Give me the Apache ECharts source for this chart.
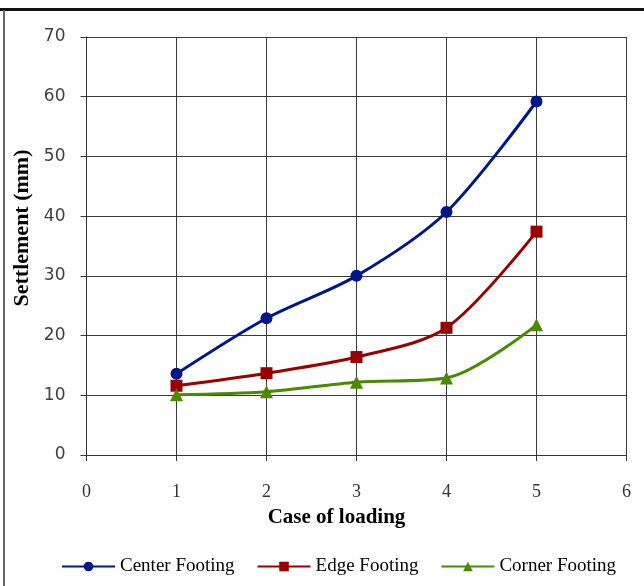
<!DOCTYPE html>
<html><head><meta charset="utf-8">
<script src="https://cdn.jsdelivr.net/npm/echarts@6/dist/echarts.min.js"></script>
<style>html,body{margin:0;padding:0;background:#fff}#c{width:644px;height:586px}</style>
</head><body><div id="c"></div>
<script>
const cases = [1, 2, 3, 4, 5];
const centerFooting = [13.6, 22.9, 30.0, 40.7, 59.2];
const edgeFooting = [11.6, 13.7, 16.4, 21.3, 37.4];
const cornerFooting = [10.1, 10.6, 12.2, 12.9, 21.8];
const seriesNames = ['Center Footing', 'Edge Footing', 'Corner Footing'];
const xTitle = 'Case of loading';
const yTitle = 'Settlement (mm)';

const pair = arr => cases.map((c, i) => [c, arr[i]]);
const chart = echarts.init(document.getElementById('c'), null, {renderer: 'canvas'});
const mk = (name, data, color, symbol, size) => ({
  name, type: 'line', data: pair(data), smooth: 0.3,
  symbol, symbolSize: size,
  lineStyle: {color, width: 3}, itemStyle: {color},
  emphasis: {disabled: true}
});
chart.setOption({
  animation: false,
  graphic: [
    {type: 'rect', shape: {x: 0, y: 8, width: 644, height: 3}, style: {fill: '#111'}},
    {type: 'rect', shape: {x: 3, y: 10, width: 2, height: 580}, style: {fill: '#666'}}
  ],
  grid: {left: 86.5, right: 17.5, top: 37, bottom: 131},
  xAxis: {
    type: 'value', min: 0, max: 6, interval: 1,
    name: xTitle, nameLocation: 'middle', nameGap: 52,
    nameTextStyle: {fontFamily: 'Liberation Serif', fontWeight: 'bold', fontSize: 21, color: '#000', padding: [0, 40, 0, 0]},
    axisLine: {show: true, onZero: false, lineStyle: {color: '#333', width: 1}},
    axisTick: {show: true, inside: false, length: 6, lineStyle: {color: '#333'}},
    axisLabel: {margin: 28, fontFamily: 'Liberation Serif', fontSize: 18, color: '#333'},
    splitLine: {show: true, lineStyle: {color: '#3a3a3a', width: 1}}
  },
  yAxis: {
    type: 'value', min: 0, max: 70, interval: 10,
    name: yTitle, nameLocation: 'middle', nameGap: 53, nameRotate: 90,
    nameTextStyle: {fontFamily: 'Liberation Serif', fontWeight: 'bold', fontSize: 22, color: '#000', padding: [0, 0, 0, 36]},
    axisLine: {show: true, lineStyle: {color: '#333', width: 1}},
    axisTick: {show: true, inside: false, length: 6, lineStyle: {color: '#333'}},
    axisLabel: {margin: 21, fontFamily: 'DejaVu Sans', fontSize: 17, color: '#404040'},
    splitLine: {show: true, lineStyle: {color: '#3a3a3a', width: 1}}
  },
  legend: {
    bottom: 5, left: 56, itemWidth: 53, itemHeight: 12, itemGap: 22,
    textStyle: {fontFamily: 'Liberation Serif', fontSize: 19, color: '#000'},
    data: seriesNames
  },
  series: [
    mk(seriesNames[0], centerFooting, '#00168a', 'circle', 12),
    mk(seriesNames[1], edgeFooting, '#990000', 'rect', 12),
    mk(seriesNames[2], cornerFooting, '#4a8a00', 'triangle', 13)
  ]
});
</script></body></html>
